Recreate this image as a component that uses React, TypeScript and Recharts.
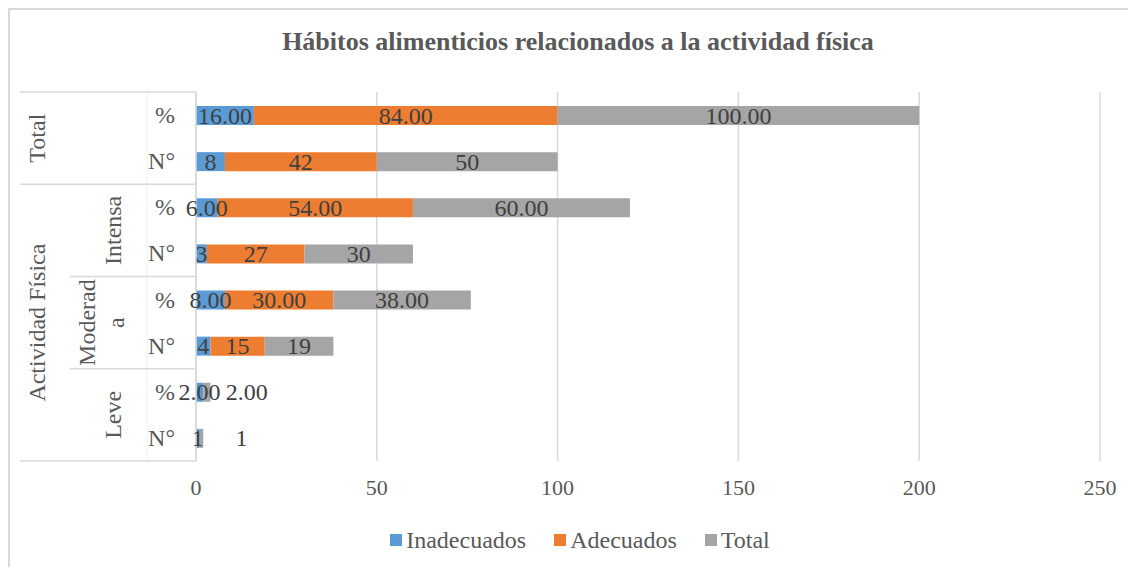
import React from "react";
import {
    BarChart,
    Bar,
    XAxis,
    YAxis,
    CartesianGrid,
    LabelList,
} from "recharts";

// category levels, top row first
const measures = ["%", "N°", "%", "N°", "%", "N°", "%", "N°"];
const level2 = ["", "", "Intensa", "Intensa", "Moderada", "Moderada", "Leve", "Leve"];
const level1 = [
    "Total", "Total",
    "Actividad Física", "Actividad Física", "Actividad Física",
    "Actividad Física", "Actividad Física", "Actividad Física",
];

// series values
const inadecuados = [16, 8, 6, 3, 8, 4, 2, 1];
const adecuados = [84, 42, 54, 27, 30, 15, 0, 0];
const totales = [100, 50, 60, 30, 38, 19, 2, 1];

const xTicks = [0, 50, 100, 150, 200, 250];

const series = [
    { key: "inad", name: "Inadecuados", color: "#5B9BD5" },
    { key: "adec", name: "Adecuados", color: "#ED7D31" },
    { key: "total", name: "Total", color: "#A5A5A5" },
];

const fmt = (v: number, m: string) => (m === "%" ? v.toFixed(2) : String(v));

const data = measures.map((m, i) => ({
    id: `r${i}`,
    inad: inadecuados[i],
    adec: adecuados[i],
    total: totales[i],
    inadLabel: fmt(inadecuados[i], m),
    adecLabel: fmt(adecuados[i], m),
    totalLabel: fmt(totales[i], m),
}));

const FONT = "Liberation Serif, Times New Roman, serif";
const W = 1120;
const H = 540;
const M = { top: 82, right: 30, bottom: 49, left: 0 };
const X_AXIS_H = 40;
const Y_AXIS_W = 186;
const PLOT_H = H - M.top - M.bottom - X_AXIS_H;
const BAND = PLOT_H / measures.length;
const LINE = "#D9D9D9";

const groupSize = (arr: string[], i: number) => {
    let n = 0;
    while (i + n < arr.length && arr[i + n] === arr[i]) n++;
    return n;
};

// excel wraps the long group name in two lines
const wrap = (s: string) => (s.length > 7 ? [s.slice(0, 7), s.slice(7)] : [s]);

const RotText = ({ cx, cy, lines }: { cx: number; cy: number; lines: string[] }) => {
    const gap = 29;
    const start = cx - ((lines.length - 1) * gap) / 2;
    return (
        <g>
            {lines.map((l, k) => (
                <text
                    key={k}
                    x={start + k * gap}
                    y={cy}
                    transform={`rotate(-90, ${start + k * gap}, ${cy})`}
                    textAnchor="middle"
                    dominantBaseline="central"
                    fill="#595959"
                    fontSize={24}
                    style={{ fontFamily: FONT }}
                >
                    {l}
                </text>
            ))}
        </g>
    );
};

const CategoryTick = (props: any) => {
    const { y, index } = props;
    const top = y - BAND / 2;
    const isL1Start = index === 0 || level1[index] !== level1[index - 1];
    const isL2Start = level2[index] !== "" && (index === 0 || level2[index] !== level2[index - 1]);
    const last = index === measures.length - 1;
    return (
        <g>
            {index === 0 && (
                <line x1={137} x2={137} y1={top} y2={top + BAND * measures.length} stroke="#F0F0F0" />
            )}
            {isL1Start && <line x1={10} x2={Y_AXIS_W} y1={top} y2={top} stroke={LINE} strokeWidth={1.5} />}
            {isL2Start && !isL1Start && (
                <line x1={60} x2={Y_AXIS_W} y1={top} y2={top} stroke={LINE} strokeWidth={1.5} />
            )}
            {last && <line x1={10} x2={Y_AXIS_W} y1={top + BAND} y2={top + BAND} stroke={LINE} strokeWidth={1.5} />}
            {isL1Start && (
                <RotText cx={27} cy={top + (groupSize(level1, index) * BAND) / 2} lines={[level1[index]]} />
            )}
            {isL2Start && (
                <RotText
                    cx={wrap(level2[index]).length > 1 ? 91 : 103}
                    cy={top + (groupSize(level2, index) * BAND) / 2}
                    lines={wrap(level2[index])}
                />
            )}
            <text
                x={165}
                y={y}
                textAnchor="end"
                dominantBaseline="central"
                fill="#595959"
                fontSize={24}
                style={{ fontFamily: FONT }}
            >
                {measures[index]}
            </text>
        </g>
    );
};

const SegLabel = (shiftSmall: boolean) => (props: any) => {
    const { x, y, width, height, value } = props;
    const shift = shiftSmall && width < 20 ? 40 : 0;
    return (
        <text
            x={x + width / 2 + shift}
            y={y + height / 2}
            textAnchor="middle"
            dominantBaseline="central"
            fill="#404040"
            fontSize={24}
            style={{ fontFamily: FONT }}
        >
            {value}
        </text>
    );
};

export default function App() {
    return (
        <div style={{ width: 1120, height: 559, overflow: "hidden", position: "relative" }}>
            <div
                style={{
                    position: "absolute",
                    left: 0,
                    top: 0,
                    width: 1200,
                    height: 620,
                    border: `2px solid ${LINE}`,
                    background: "#fff",
                }}
            >
                <div
                    style={{
                        position: "absolute",
                        top: 19,
                        left: 8,
                        width: W,
                        textAlign: "center",
                        fontFamily: FONT,
                        fontWeight: "bold",
                        fontSize: 26,
                        lineHeight: "26px",
                        color: "#595959",
                    }}
                >
                    Hábitos alimenticios relacionados a la actividad física
                </div>
                <div style={{ position: "absolute", top: 0, left: 0 }}>
                    <BarChart width={W} height={H} data={data} layout="vertical" margin={M} barSize={19}>
                        <CartesianGrid horizontal={false} stroke={LINE} strokeWidth={1.5} />
                        <XAxis
                            type="number"
                            domain={[0, 250]}
                            ticks={xTicks}
                            height={X_AXIS_H}
                            axisLine={false}
                            tickLine={false}
                            tickMargin={12}
                            tick={{ fill: "#595959", fontSize: 22, style: { fontFamily: FONT } }}
                        />
                        <YAxis
                            type="category"
                            dataKey="id"
                            width={Y_AXIS_W}
                            axisLine={{ stroke: LINE, strokeWidth: 1.5 }}
                            tickLine={false}
                            tick={CategoryTick}
                            interval={0}
                        />
                        {series.map((s) => (
                            <Bar key={s.key} dataKey={s.key} stackId="a" fill={s.color} isAnimationActive={false}>
                                <LabelList dataKey={`${s.key}Label`} content={SegLabel(s.key === "total")} />
                            </Bar>
                        ))}
                    </BarChart>
                </div>
                <div
                    style={{
                        position: "absolute",
                        top: 517,
                        left: 10,
                        width: W,
                        display: "flex",
                        justifyContent: "center",
                        gap: 28,
                        fontFamily: FONT,
                        fontSize: 24,
                        lineHeight: "26px",
                        color: "#595959",
                    }}
                >
                    {series.map((s) => (
                        <div key={s.key} style={{ display: "flex", alignItems: "center", gap: 4 }}>
                            <span style={{ width: 12, height: 12, background: s.color, display: "inline-block" }} />
                            <span>{s.name}</span>
                        </div>
                    ))}
                </div>
            </div>
        </div>
    );
}
